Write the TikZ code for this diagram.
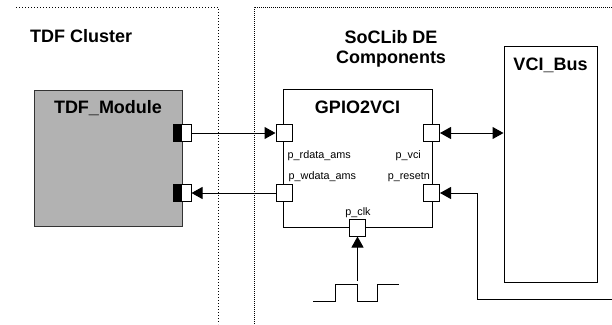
\documentclass[tikz,border=0pt]{standalone}
\usepackage{fontspec}
\setmainfont{Liberation Sans}
\usetikzlibrary{arrows.meta,positioning}
\begin{document}
\begin{tikzpicture}[x=1pt, y=-1pt,
    block/.style={draw, line width=1pt, inner sep=0pt},
    title/.style={font=\fontsize{18}{20}\selectfont\bfseries, inner sep=0pt, align=center},
    portname/.style={font=\fontsize{10.8}{12}\selectfont, inner sep=0pt},
    port/.style={draw, line width=1pt, fill=white, minimum width=16pt, minimum height=17pt, inner sep=0pt},
    tdfport/.style={port, minimum width=18pt, path picture={\fill[black] (path picture bounding box.south west) rectangle (path picture bounding box.north);}},
    tip/.style={Triangle[length=11pt, width=12pt]},
    arr/.style={line width=1pt, -{Triangle[length=11pt, width=12pt]}},
    region/.style={line width=1pt, dotted}]
                        \useasboundingbox (0,0) rectangle (612,324);

                        \draw[region] (16,7) -- (218,7) -- (218,324);
                        \draw[region, dash pattern=on 1pt off 1pt] (254,324) -- (254,7) -- (612,7);
                        \node (clustertitle) at (30,42) [title, anchor=base west] {TDF Cluster};
                        \node (soclibtitle) at (391,63.5) [title, anchor=base] {SoCLib DE\\Components};

                        \node (tdf) at (108,158) [block, draw=black!80, fill=black!30, minimum width=148pt, minimum height=136pt] {};
                        \node (tdftitle) at (108,113) [title, anchor=base] {TDF\_Module};
                        \node (tdfout) at (182,133) [tdfport] {};
                        \node (tdfin) at (182,193) [tdfport] {};

                        \node (gpio) at (357.5,158) [block, minimum width=149pt, minimum height=138pt] {};
                        \node (gpiotitle) at (357.5,113) [title, anchor=base] {GPIO2VCI};
                        \node (rdata) at (284,133) [port] {};
                        \node (wdata) at (284,193) [port] {};
                        \node (vci) at (431.5,133) [port] {};
                        \node (resetn) at (431.5,193) [port] {};
                        \node (clk) at (357.5,227.5) [port] {};
                        \node (rdatalabel) at (287.5,158.5) [portname, anchor=base west] {p\_rdata\_ams};
                        \node (wdatalabel) at (288.5,179.5) [portname, anchor=base west] {p\_wdata\_ams};
                        \node (vcilabel) at (421,158.5) [portname, anchor=base east] {p\_vci};
                        \node (resetnlabel) at (430,179.5) [portname, anchor=base east] {p\_resetn};
                        \node (clklabel) at (358,215.5) [portname, anchor=base] {p\_clk};

                        \node (bus) at (550.5,164) [block, minimum width=93pt, minimum height=236pt] {};
                        \node (bustitle) at (550.5,70) [title, anchor=base] {VCI\_Bus};

                        \draw[arr] (tdfout.east) -- (rdata.west);
                        \draw[arr] (wdata.west) -- (tdfin.east);
                        \draw[line width=1pt, {Triangle[length=11pt, width=12pt]}-{Triangle[length=11pt, width=12pt]}] (vci.east) -- (vci.east -| bus.west);

                        \coordinate (rstsrc) at (612,299);
                        \coordinate (rstbend) at (477,193);
                        \draw[arr] (rstsrc) -| (rstbend) -- (resetn.east);

                        \draw[line width=1pt] (313,301) -- (335,301) -- (335,284) -- (357,284) -- (357,301) -- (377,301) -- (377,284) -- (399,284);
                        \coordinate (clksrc) at (357.5,281);
                        \draw[arr] (clksrc) -- (clk.south);
\end{tikzpicture}
\end{document}
